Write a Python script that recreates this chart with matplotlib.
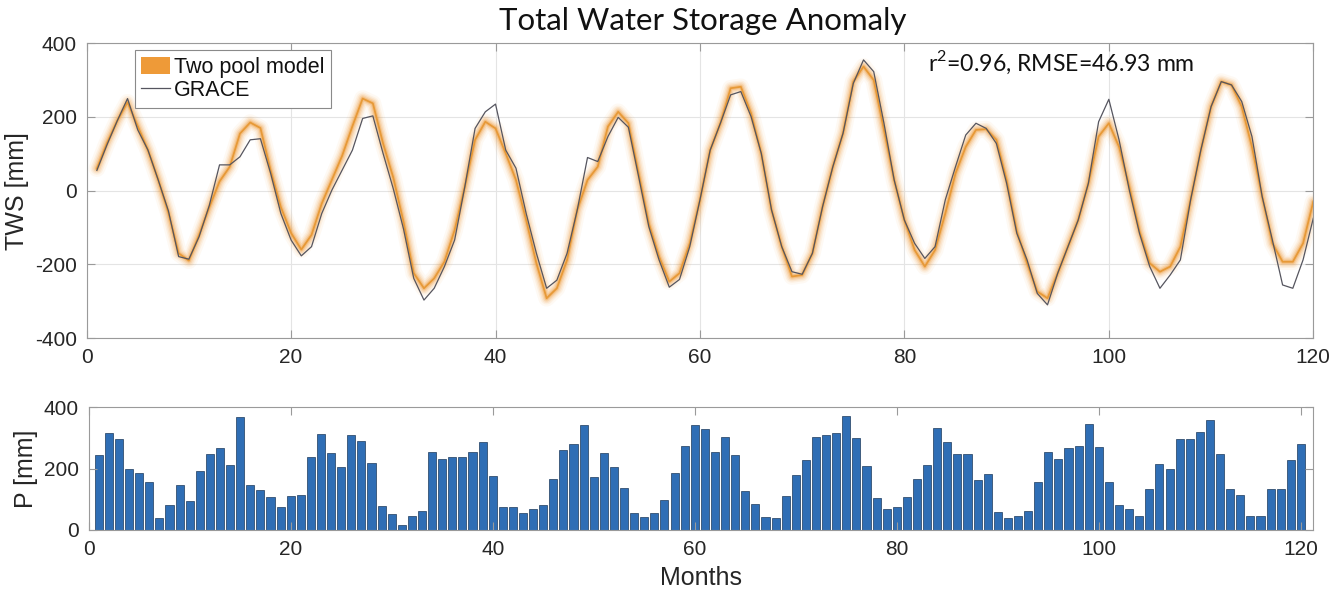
import numpy as np
import matplotlib
matplotlib.use("Agg")
import matplotlib.pyplot as plt
from matplotlib.patches import Patch
from matplotlib.lines import Line2D

#------------------------
# data (monthly, 1..120)
months = np.arange(1, 121)

tws_model = [60, 130, 190, 240, 175, 110, 30, -60, -170, -190,
             -120, -45, 25, 65, 155, 185, 170, 55, -45, -115,
             -160, -120, -35, 30, 95, 175, 250, 237, 128, 35,
             -85, -224, -265, -238, -193, -107, 11, 138, 187, 169,
             101, 29, -80, -197, -292, -265, -188, -52, 29, 65,
             174, 214, 183, 47, -89, -179, -247, -224, -143, -25,
             110, 183, 278, 282, 210, 101, -52, -152, -233, -229,
             -170, -43, 65, 156, 296, 337, 300, 165, 29, -80,
             -161, -206, -161, -62, 47, 119, 165, 167, 138, 29,
             -110, -197, -274, -292, -224, -152, -80, 20, 147, 183,
             119, 11, -110, -197, -220, -206, -152, -25, 110, 228,
             296, 287, 228, 119, -16, -143, -193, -193, -143, -30]

tws_grace = [55, 125, 190, 250, 165, 110, 29, -55, -179, -186,
             -125, -40, 70, 70, 92, 138, 141, 47, -62, -134,
             -177, -152, -62, 2, 56, 110, 196, 203, 101, 5,
             -104, -238, -297, -265, -206, -134, 11, 169, 214, 235,
             110, 61, -62, -170, -265, -243, -170, -52, 90, 79,
             147, 199, 172, 38, -98, -188, -262, -241, -152, -25,
             110, 183, 260, 269, 201, 101, -52, -152, -220, -227,
             -170, -43, 65, 156, 291, 355, 323, 183, 29, -80,
             -143, -184, -152, -25, 65, 151, 183, 169, 128, 20,
             -116, -188, -279, -310, -224, -152, -80, 20, 187, 248,
             138, 2, -116, -206, -265, -229, -188, -25, 110, 228,
             296, 287, 242, 147, -16, -134, -256, -265, -188, -75]

precip = [245, 316, 298, 198, 185, 156, 40, 83, 148, 96,
          191, 248, 267, 211, 369, 147, 129, 108, 75, 110,
          113, 237, 314, 252, 206, 309, 290, 218, 78, 53,
          17, 46, 62, 253, 231, 239, 239, 253, 287, 175,
          75, 74, 56, 70, 80, 165, 260, 280, 341, 172,
          252, 206, 137, 55, 42, 55, 97, 185, 275, 343,
          328, 253, 304, 246, 127, 84, 43, 39, 110, 178,
          227, 304, 311, 316, 372, 299, 210, 104, 69, 75,
          107, 166, 211, 333, 287, 249, 249, 163, 182, 59,
          40, 46, 63, 158, 253, 232, 266, 273, 344, 269,
          157, 81, 68, 46, 133, 214, 198, 296, 296, 320,
          359, 249, 133, 115, 46, 46, 133, 135, 229, 281]

x_ticks = [0, 20, 40, 60, 80, 100, 120]
tws_ticks = [-400, -200, 0, 200, 400]
p_ticks = [0, 200, 400]

#------------------------
plt.rcParams['font.family'] = ['Liberation Sans', 'DejaVu Sans']
plt.rcParams['axes.unicode_minus'] = False
plt.rcParams['mathtext.fontset'] = 'custom'
plt.rcParams['mathtext.rm'] = 'Lato'
orange = '#EE9A38'
spine_col = '#9a9a9a'
txt_col = '#262626'

fig = plt.figure(figsize=(13.33, 5.9), dpi=100)
ax1 = fig.add_axes([0.0650, 0.4271, 0.9202, 0.4995])
ax2 = fig.add_axes([0.0665, 0.1017, 0.9185, 0.2080])

# model ensemble drawn as a soft band
for lw, a in [(12, 0.06), (9, 0.09), (7, 0.13), (5, 0.2), (3, 0.35)]:
    ax1.plot(months, tws_model, color=orange, lw=lw, alpha=a,
             solid_capstyle='round', solid_joinstyle='round')
ax1.plot(months, tws_model, color='#E6952F', lw=1.3, alpha=0.9)
ax1.plot(months, tws_grace, color='#55555f', lw=0.9)

ax1.set_xlim(0, 120)
ax1.set_ylim(-400, 400)
ax1.set_xticks(x_ticks)
ax1.set_yticks(tws_ticks)
ax1.grid(True, color='#e4e4e4', lw=0.8)
ax1.set_axisbelow(True)
ax1.set_ylabel('TWS [mm]', fontsize=18, color=txt_col, labelpad=4)

handles = [Patch(facecolor=orange, edgecolor='none'),
           Line2D([], [], color='#55555f', lw=0.9)]
leg = ax1.legend(handles, ['Two pool model', 'GRACE'], loc='upper left',
                 bbox_to_anchor=(0.0394, 0.977), borderaxespad=0,
                 fontsize=15.5, handlelength=1.35, handleheight=0.9,
                 handletextpad=0.15, labelspacing=0.1, borderpad=0.3,
                 fancybox=False, framealpha=1)
leg.get_frame().set_edgecolor('#8a8a8a')
leg.get_frame().set_linewidth(0.8)
for t in leg.get_texts():
    t.set_color('#111111')

ax1.text(0.686, 0.906, r'r$^{\mathrm{2}}$=0.96, RMSE=46.93 mm', transform=ax1.transAxes,
         fontsize=16.6, family=['Lato', 'DejaVu Sans'], color='#111111', va='baseline')

# precipitation bars
ax2.bar(months, precip, width=0.8, color='#2F6EB5', edgecolor='#1d3a5c', lw=0.5)
ax2.set_xlim(0, 121.2)
ax2.set_ylim(0, 400)
ax2.set_xticks(x_ticks)
ax2.set_yticks(p_ticks)
ax2.set_ylabel('P [mm]', fontsize=18, color=txt_col, labelpad=4)
ax2.set_xlabel('Months', fontsize=18, color=txt_col, labelpad=5)

for ax in (ax1, ax2):
    for s in ax.spines.values():
        s.set_color(spine_col)
        s.set_linewidth(0.8)
    ax.tick_params(direction='in', length=6, width=0.8, color=spine_col,
                   top=True, right=True, labelsize=15, labelcolor=txt_col, pad=7)

fig.text(0.527, 0.965, 'Total Water Storage Anomaly', ha='center', va='center',
         fontsize=22.5, family=['Lato', 'DejaVu Sans'], color='#111111')

fig.savefig('out.png', dpi=100)
